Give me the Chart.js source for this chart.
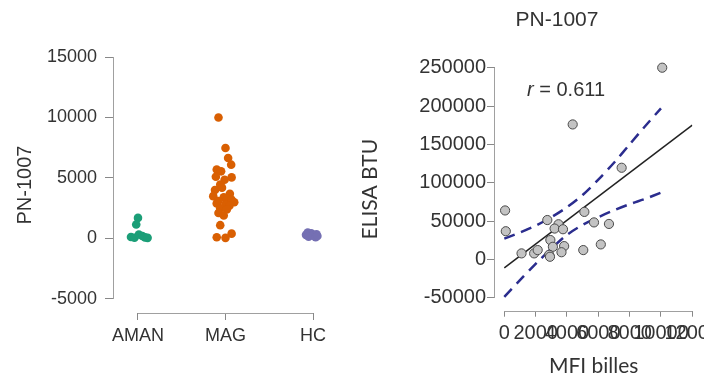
<!DOCTYPE html>
<html>
<head>
<meta charset="utf-8">
<script src="https://cdn.jsdelivr.net/npm/chart.js@4.4.0/dist/chart.umd.min.js"></script>
<style>
html, body { margin: 0; padding: 0; background: #fff; }
#wrap { position: relative; width: 704px; height: 380px; }
canvas { position: absolute; top: 0; }
#left { left: 0; }
#right { left: 352px; }
</style>
</head>
<body>
<div id="wrap">
  <canvas id="left" width="352" height="380"></canvas>
  <canvas id="right" width="352" height="380"></canvas>
</div>
<script>
// left panel: strip plot per group
var categories = ['AMAN', 'MAG', 'HC'];
var leftTicks = [-5000, 0, 5000, 10000, 15000];

var amanValues = [1700, 1150, 120, 60, 330, 200, 90, 50];
var amanJitter = [0, -0.02, -0.08, -0.04, 0.01, 0.05, 0.08, 0.11];

var magValues = [10000, 7480, 6650, 6100, 5700, 5550, 5100, 5050, 4850, 4450, 4200, 4000, 3700, 3500, 3400,
                 3300, 3200, 3100, 3000, 2900, 2800, 2700, 2500, 2400, 2100, 1900, 1100, 400, 100, 50];
var magJitter = [-0.08, 0, 0.03, 0.065, -0.1, -0.05, -0.11, 0.07, -0.01, -0.06, -0.04, -0.12, 0.05, -0.14, -0.02,
                 0.02, 0.07, -0.08, 0.1, -0.1, 0, 0.045, -0.06, 0.015, -0.08, -0.02, -0.06, 0.07, -0.1, 0];

var hcValues = [500, 420, 300, 150, 250, 350, 100, 200];
var hcJitter = [-0.06, -0.02, -0.08, -0.05, 0, 0.04, 0.03, 0.05];

// right panel: correlation
var rightXTicks = [0, 2000, 4000, 6000, 8000, 10000, 12000];
var rightYTicks = [-50000, 0, 50000, 100000, 150000, 200000, 250000];

var mfi =   [10080, 4365, 7490, 50, 95, 5110, 2745, 3460, 3210, 3745, 5725, 6680, 2940, 3100, 3820,
             1100, 1905, 2130, 2865, 2915, 3650, 5040, 6160];
var elisa = [250000, 176000, 119500, 63800, 36700, 61900, 51300, 45800, 40200, 39300, 48200, 46200, 25200, 16400, 17300,
             7800, 7800, 12100, 6000, 3400, 9300, 12100, 19500];

var fitX = [0, 12000];
var fitY = [-11000, 175000];

var ciX =     [0, 1000, 2000, 3000, 4000, 5000, 6000, 7000, 8000, 9000, 10000];
var ciUpper = [27000, 35000, 44000, 55000, 68000, 84000, 104000, 126000, 150000, 174000, 197000];
var ciLower = [-49000, -27000, -6000, 14000, 32000, 45000, 55000, 64000, 72000, 79000, 87000];

var FONT = '"Liberation Sans", Arial, sans-serif';
var TEXT = '#333';

function strip(idx, jit, vals) {
    return vals.map((v, i) => ({ x: idx + jit[i], y: v }));
}
function pairs(xs, ys) {
    return xs.map((x, i) => ({ x: x, y: ys[i] }));
}

// draws the detached axis lines (y from yFrom to yTo, x from xFrom to xTo)
const axisLines = {
    id: 'axisLines',
    beforeDatasetsDraw(chart, args, opts) {
        const { ctx, chartArea, scales } = chart;
        ctx.save();
        ctx.strokeStyle = opts.color;
        ctx.lineWidth = 1;
        ctx.beginPath();
        const xl = Math.round(chartArea.left) - 0.5;
        ctx.moveTo(xl, scales.y.getPixelForValue(opts.yFrom));
        ctx.lineTo(xl, scales.y.getPixelForValue(opts.yTo));
        const yb = Math.round(chartArea.bottom) + 0.5;
        ctx.moveTo(scales.x.getPixelForValue(opts.xFrom), yb);
        ctx.lineTo(scales.x.getPixelForValue(opts.xTo), yb);
        ctx.stroke();
        ctx.restore();
    }
};

const notes = {
    id: 'notes',
    afterDraw(chart) {
        const ctx = chart.ctx;
        ctx.save();
        ctx.fillStyle = TEXT;
        ctx.textBaseline = 'middle';
        ctx.textAlign = 'center';
        ctx.font = '21px ' + FONT;
        ctx.fillText('PN-1007', 205, 20);
        ctx.textAlign = 'left';
        ctx.font = 'italic 20px ' + FONT;
        ctx.fillText('r', 175, 90);
        const w = ctx.measureText('r').width;
        ctx.font = '20px ' + FONT;
        ctx.fillText(' = 0.611', 175 + w, 90);
        ctx.restore();
    }
};

new Chart(document.getElementById('left'), {
    type: 'scatter',
    data: {
        datasets: [
            { data: strip(0, amanJitter, amanValues), backgroundColor: '#1b9e77' },
            { data: strip(1, magJitter, magValues), backgroundColor: '#d95f02' },
            { data: strip(2, hcJitter, hcValues), backgroundColor: '#7570b3' }
        ]
    },
    options: {
        responsive: false,
        animation: false,
        layout: { padding: { top: 57, right: 13, bottom: 0, left: 0 } },
        elements: { point: { radius: 4.3, hoverRadius: 4.3, borderWidth: 0 } },
        plugins: {
            legend: { display: false },
            tooltip: { enabled: false },
            axisLines: { color: '#a0a0a0', yFrom: 15000, yTo: -5000, xFrom: 0, xTo: 2 }
        },
        scales: {
            x: {
                type: 'linear', min: -0.274, max: 2.297,
                afterBuildTicks: s => { s.ticks = categories.map((c, i) => ({ value: i })); },
                afterFit: s => { s.height = 67; s.paddingLeft = 0; s.paddingRight = 0; },
                grid: { drawOnChartArea: false, tickLength: 7, color: '#888' },
                border: { display: false },
                ticks: { callback: v => categories[v], padding: 5, color: TEXT, autoSkip: false, maxRotation: 0,
                         font: { family: FONT, size: 18 } }
            },
            y: {
                min: -6160, max: 15000,
                afterBuildTicks: s => { s.ticks = leftTicks.map(v => ({ value: v })); },
                afterFit: s => { s.width = 114; s.paddingTop = 0; s.paddingBottom = 0; },
                grid: { drawOnChartArea: false, tickLength: 9, color: '#888' },
                border: { display: false },
                ticks: { callback: v => String(v), padding: 8, color: TEXT, font: { family: FONT, size: 18 } },
                title: { display: true, text: 'PN-1007', color: TEXT, font: { family: FONT, size: 20 },
                         padding: { top: 13, bottom: 0 } }
            }
        }
    },
    plugins: [axisLines]
});

new Chart(document.getElementById('right'), {
    type: 'scatter',
    data: {
        datasets: [
            { data: pairs(mfi, elisa), backgroundColor: '#c3c3c3', borderColor: '#4a4a4a', borderWidth: 1,
              pointRadius: 4.6, pointHoverRadius: 4.6, clip: false },
            { data: pairs(fitX, fitY), showLine: true, borderColor: '#222', borderWidth: 1.5, pointRadius: 0 },
            { data: pairs(ciX, ciUpper), showLine: true, borderColor: '#2b2d8e', borderWidth: 2.5,
              borderDash: [11, 7], pointRadius: 0, tension: 0.3 },
            { data: pairs(ciX, ciLower), showLine: true, borderColor: '#2b2d8e', borderWidth: 2.5,
              borderDash: [11, 7], pointRadius: 0, tension: 0.3 }
        ]
    },
    options: {
        responsive: false,
        animation: false,
        layout: { padding: { top: 67.7, right: 11.7, bottom: 0, left: 0 } },
        plugins: {
            legend: { display: false },
            tooltip: { enabled: false },
            axisLines: { color: '#a0a0a0', yFrom: 250000, yTo: -50000, xFrom: 0, xTo: 12000 }
        },
        scales: {
            x: {
                type: 'linear', min: -594, max: 12000,
                afterBuildTicks: s => { s.ticks = rightXTicks.map(v => ({ value: v })); },
                afterFit: s => { s.height = 69.3; s.paddingLeft = 0; s.paddingRight = 0; },
                grid: { drawOnChartArea: false, tickLength: 6, color: '#888' },
                border: { display: false },
                ticks: { callback: v => String(v), padding: 5, color: TEXT, autoSkip: false, maxRotation: 0,
                         font: { family: FONT, size: 20 } },
                title: { display: true, text: 'MFI billes', color: TEXT, font: { family: 'Lato', size: 21 },
                         padding: { top: 0, bottom: 1 } }
            },
            y: {
                min: -66960, max: 250000,
                afterBuildTicks: s => { s.ticks = rightYTicks.map(v => ({ value: v })); },
                afterFit: s => { s.width = 143; s.paddingTop = 0; s.paddingBottom = 0; },
                grid: { drawOnChartArea: false, tickLength: 8, color: '#888' },
                border: { display: false },
                ticks: { callback: v => String(v), padding: 1, color: TEXT, font: { family: FONT, size: 20 } },
                title: { display: true, text: 'ELISA BTU', color: TEXT, font: { family: 'Lato', size: 21 },
                         padding: { top: 6, bottom: 0 } }
            }
        }
    },
    plugins: [axisLines, notes]
});
</script>
</body>
</html>
